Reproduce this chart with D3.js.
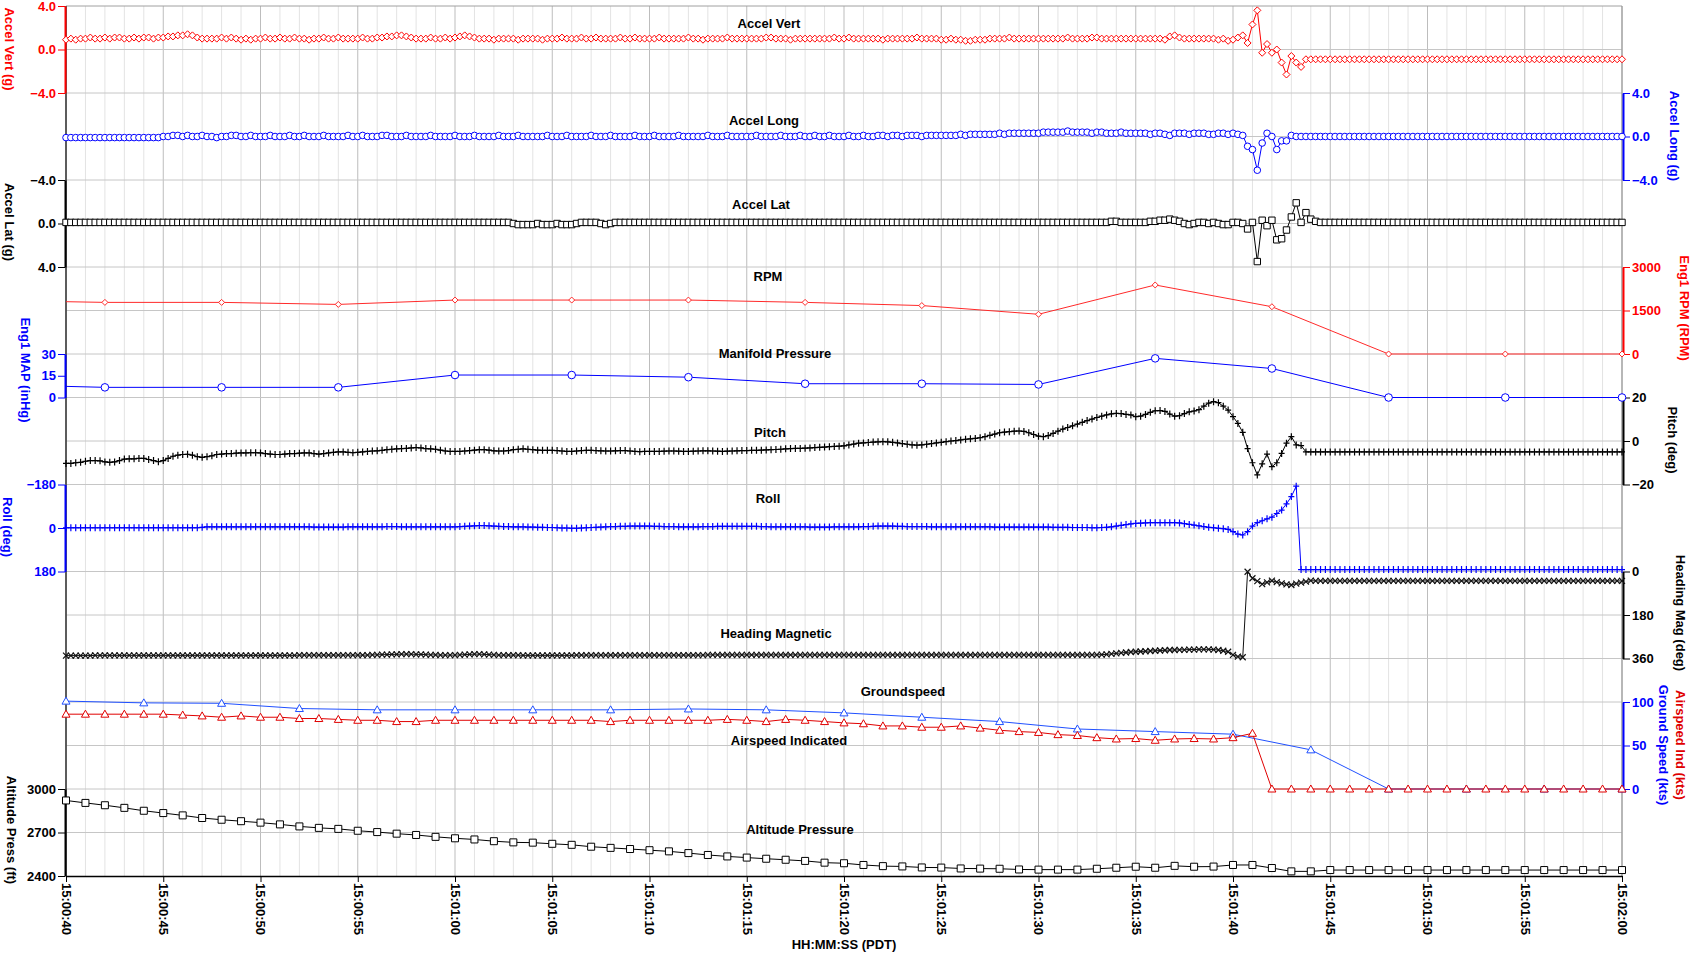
<!DOCTYPE html>
<html>
<head>
<meta charset="utf-8">
<script src="https://cdn.jsdelivr.net/npm/d3@7"></script>
<style>
  body { margin: 0; background: #fff; }
  svg text { font-family: "Liberation Sans", Arial, sans-serif; font-weight: bold; }
</style>
</head>
<body>
<svg id="chart" width="1694" height="956"></svg>
<script>
// ---- data (4 samples / s from 15:00:40, 321 samples) ----
const accelVert = [
  0.9,1.0,0.9,1.0,1.0,1.1,1.0,1.0,1.1,1.0,1.1,1.1,1.0,1.0,1.1,1.0,1.1,1.1,1.0,1.1,
  1.1,1.2,1.2,1.3,1.3,1.4,1.3,1.1,1.0,1.0,1.0,1.0,1.1,1.0,1.1,1.0,0.9,1.0,0.9,1.0,
  1.0,1.1,1.0,1.0,1.1,1.0,1.0,1.1,1.0,1.0,0.9,1.0,1.0,1.1,1.0,1.0,1.1,1.0,1.0,1.0,
  1.0,1.1,1.0,1.0,1.1,1.1,1.2,1.2,1.3,1.3,1.2,1.1,1.0,1.0,1.0,1.1,1.0,1.0,1.1,1.0,
  1.1,1.2,1.3,1.2,1.1,1.0,1.0,1.0,0.9,1.0,1.0,1.0,1.0,0.9,1.0,1.0,1.0,1.0,0.9,1.0,
  1.0,1.0,1.1,1.0,1.0,1.0,1.1,1.0,1.0,1.1,1.0,1.0,1.0,1.0,1.1,1.0,1.0,1.1,1.0,1.0,
  1.0,1.0,1.1,1.0,1.0,1.0,1.0,1.0,1.1,1.0,1.0,0.9,1.0,1.0,1.0,1.0,1.1,1.0,1.0,1.0,
  1.0,1.0,1.0,1.0,1.1,1.1,1.0,1.0,1.0,0.9,1.0,1.0,1.0,1.0,1.0,1.0,1.0,1.0,1.1,1.0,
  1.0,1.1,1.0,1.0,1.0,1.0,1.0,1.0,0.9,1.0,1.0,1.0,1.0,1.0,1.0,1.1,1.0,1.0,1.0,1.0,
  0.9,0.9,1.0,0.9,0.9,0.8,0.8,0.9,0.9,0.9,1.0,1.0,1.0,1.0,1.1,1.0,1.0,1.0,1.0,1.0,
  1.0,1.0,1.0,1.0,1.0,1.0,1.1,1.0,1.0,1.0,1.0,1.1,1.1,1.0,1.0,1.0,1.0,1.0,1.0,1.0,
  1.0,1.0,1.0,1.0,1.0,1.0,0.9,1.2,1.3,1.1,1.0,1.0,1.0,1.0,1.0,1.0,1.0,0.9,1.0,0.8,
  0.9,1.1,1.3,0.6,2.3,3.6,-0.3,0.5,-0.3,0.0,-1.2,-2.3,-0.6,-1.2,-1.6,-0.9,-0.9,-0.9,-0.9,-0.9,
  -0.9,-0.9,-0.9,-0.9,-0.9,-0.9,-0.9,-0.9,-0.9,-0.9,-0.9,-0.9,-0.9,-0.9,-0.9,-0.9,-0.9,-0.9,-0.9,-0.9,
  -0.9,-0.9,-0.9,-0.9,-0.9,-0.9,-0.9,-0.9,-0.9,-0.9,-0.9,-0.9,-0.9,-0.9,-0.9,-0.9,-0.9,-0.9,-0.9,-0.9,
  -0.9,-0.9,-0.9,-0.9,-0.9,-0.9,-0.9,-0.9,-0.9,-0.9,-0.9,-0.9,-0.9,-0.9,-0.9,-0.9,-0.9,-0.9,-0.9,-0.9,
  -0.9
];

const accelLong = [
  -0.1,-0.1,-0.1,-0.1,-0.1,-0.1,-0.1,-0.1,-0.1,-0.1,-0.1,-0.1,-0.1,-0.1,-0.1,-0.1,-0.1,-0.1,-0.1,-0.1,
  0.0,0.0,0.1,0.1,0.0,0.1,0.0,0.0,0.1,0.0,0.0,-0.1,0.0,0.0,0.1,0.1,0.0,0.0,0.1,0.0,
  0.0,0.0,0.1,0.0,0.0,0.0,0.1,0.0,0.0,0.1,0.0,0.0,0.0,0.1,0.0,0.0,0.0,0.0,0.1,0.0,
  0.0,0.1,0.0,0.0,0.0,0.1,0.1,0.0,0.0,0.0,0.1,0.0,0.0,0.0,0.0,0.1,0.0,0.0,0.0,0.0,
  0.1,0.0,0.0,0.0,0.1,0.0,0.0,0.0,0.0,0.1,0.0,0.0,0.0,0.1,0.0,0.0,0.0,0.0,0.0,0.1,
  0.0,0.0,0.0,0.1,0.0,0.0,0.0,0.0,0.1,0.0,0.0,0.0,0.1,0.0,0.0,0.0,0.0,0.1,0.0,0.0,
  0.0,0.1,0.0,0.0,0.0,0.0,0.1,0.0,0.0,0.0,0.0,0.0,0.1,0.0,0.0,0.0,0.1,0.0,0.0,0.0,
  0.0,0.0,0.1,0.0,0.0,0.0,0.0,0.1,0.0,0.0,0.0,0.1,0.0,0.0,0.1,0.0,0.0,0.1,0.0,0.0,
  0.0,0.1,0.0,0.0,0.1,0.0,0.0,0.1,0.1,0.0,0.1,0.1,0.0,0.1,0.1,0.1,0.0,0.1,0.1,0.1,
  0.1,0.1,0.1,0.1,0.2,0.1,0.2,0.2,0.2,0.2,0.2,0.2,0.3,0.2,0.3,0.3,0.3,0.3,0.3,0.3,
  0.3,0.4,0.4,0.4,0.4,0.4,0.5,0.4,0.4,0.4,0.4,0.3,0.4,0.4,0.3,0.3,0.3,0.4,0.3,0.3,
  0.3,0.3,0.3,0.2,0.3,0.3,0.2,0.1,0.3,0.3,0.3,0.2,0.3,0.3,0.3,0.2,0.2,0.3,0.3,0.2,
  0.3,0.2,0.1,-0.9,-1.2,-3.1,-0.6,0.3,0.0,-1.2,-0.4,-0.4,0.1,0.0,0.0,0.0,0.0,0.0,0.0,0.0,
  0.0,0.0,0.0,0.0,0.0,0.0,0.0,0.0,0.0,0.0,0.0,0.0,0.0,0.0,0.0,0.0,0.0,0.0,0.0,0.0,
  0.0,0.0,0.0,0.0,0.0,0.0,0.0,0.0,0.0,0.0,0.0,0.0,0.0,0.0,0.0,0.0,0.0,0.0,0.0,0.0,
  0.0,0.0,0.0,0.0,0.0,0.0,0.0,0.0,0.0,0.0,0.0,0.0,0.0,0.0,0.0,0.0,0.0,0.0,0.0,0.0,
  0.0
];

const accelLat = [
  -0.1,-0.1,-0.1,-0.1,-0.1,-0.1,-0.1,-0.1,-0.1,-0.1,-0.1,-0.1,-0.1,-0.1,-0.1,-0.1,-0.1,-0.1,-0.1,-0.1,
  -0.1,-0.1,-0.1,-0.1,-0.1,-0.1,-0.1,-0.1,-0.1,-0.1,-0.1,-0.1,-0.1,-0.1,-0.1,-0.1,-0.1,-0.1,-0.1,-0.1,
  -0.1,-0.1,-0.1,-0.1,-0.1,-0.1,-0.1,-0.1,-0.1,-0.1,-0.1,-0.1,-0.1,-0.1,-0.1,-0.1,-0.1,-0.1,-0.1,-0.1,
  -0.1,-0.1,-0.1,-0.1,-0.1,-0.1,-0.1,-0.1,-0.1,-0.1,-0.1,-0.1,-0.1,-0.1,-0.1,-0.1,-0.1,-0.1,-0.1,-0.1,
  -0.1,-0.1,-0.1,-0.1,-0.1,-0.1,-0.1,-0.1,-0.1,-0.1,-0.1,-0.1,0.0,0.1,0.1,0.1,0.1,0.0,0.1,0.1,
  0.1,0.0,0.1,0.1,0.1,0.0,-0.1,-0.1,-0.1,-0.1,0.0,0.1,0.0,-0.1,-0.1,-0.1,-0.1,-0.1,-0.1,-0.1,
  -0.1,-0.1,-0.1,-0.1,-0.1,-0.1,-0.1,-0.1,-0.1,-0.1,-0.1,-0.1,-0.1,-0.1,-0.1,-0.1,-0.1,-0.1,-0.1,-0.1,
  -0.1,-0.1,-0.1,-0.1,-0.1,-0.1,-0.1,-0.1,-0.1,-0.1,-0.1,-0.1,-0.1,-0.1,-0.1,-0.1,-0.1,-0.1,-0.1,-0.1,
  -0.1,-0.1,-0.1,-0.1,-0.1,-0.1,-0.1,-0.1,-0.1,-0.1,-0.1,-0.1,-0.1,-0.1,-0.1,-0.1,-0.1,-0.1,-0.1,-0.1,
  -0.1,-0.1,-0.1,-0.1,-0.1,-0.1,-0.1,-0.1,-0.1,-0.1,-0.1,-0.1,-0.1,-0.1,-0.1,-0.1,-0.1,-0.1,-0.1,-0.1,
  -0.1,-0.1,-0.1,-0.1,-0.1,-0.1,-0.1,-0.1,-0.1,-0.1,-0.1,-0.1,-0.1,-0.1,-0.1,-0.2,-0.2,-0.1,-0.1,-0.1,
  -0.1,-0.1,-0.1,-0.2,-0.2,-0.3,-0.3,-0.4,-0.3,-0.2,0.0,0.1,0.0,-0.1,-0.1,0.0,-0.1,0.0,0.1,0.1,
  -0.1,-0.1,0.0,0.5,-0.1,3.5,-0.3,0.2,-0.3,1.5,1.4,0.6,-0.6,-1.9,-0.1,-1.0,-0.4,-0.2,-0.1,-0.1,
  -0.1,-0.1,-0.1,-0.1,-0.1,-0.1,-0.1,-0.1,-0.1,-0.1,-0.1,-0.1,-0.1,-0.1,-0.1,-0.1,-0.1,-0.1,-0.1,-0.1,
  -0.1,-0.1,-0.1,-0.1,-0.1,-0.1,-0.1,-0.1,-0.1,-0.1,-0.1,-0.1,-0.1,-0.1,-0.1,-0.1,-0.1,-0.1,-0.1,-0.1,
  -0.1,-0.1,-0.1,-0.1,-0.1,-0.1,-0.1,-0.1,-0.1,-0.1,-0.1,-0.1,-0.1,-0.1,-0.1,-0.1,-0.1,-0.1,-0.1,-0.1,
  -0.1
];

const pitchDeg = [
  -10.3,-10.3,-10.0,-9.8,-9.3,-9.0,-9.0,-9.1,-9.6,-9.8,-9.6,-9.0,-8.3,-8.2,-8.2,-8.0,-8.0,-8.5,-9.0,-9.5,
  -9.0,-8.0,-7.0,-6.5,-6.2,-6.1,-6.5,-7.2,-7.5,-7.2,-6.8,-6.2,-6.0,-5.8,-5.8,-5.6,-5.5,-5.5,-5.4,-5.4,
  -5.5,-5.8,-6.0,-6.2,-6.2,-6.0,-5.8,-5.8,-5.6,-5.5,-5.5,-5.8,-6.0,-5.8,-5.5,-5.2,-5.0,-5.0,-5.2,-5.4,
  -5.2,-5.0,-4.8,-4.6,-4.5,-4.3,-4.0,-3.8,-3.6,-3.5,-3.4,-3.2,-3.0,-3.2,-3.5,-3.6,-3.8,-4.2,-4.6,-4.8,
  -4.8,-4.8,-4.6,-4.4,-4.2,-4.0,-4.0,-4.2,-4.5,-4.6,-4.6,-4.4,-4.0,-3.8,-3.6,-3.8,-4.0,-4.2,-4.3,-4.3,
  -4.3,-4.4,-4.6,-4.8,-4.8,-4.6,-4.4,-4.3,-4.3,-4.4,-4.5,-4.6,-4.6,-4.5,-4.4,-4.4,-4.6,-4.8,-4.9,-4.8,
  -4.8,-4.8,-4.8,-4.7,-4.6,-4.6,-4.7,-4.8,-4.8,-4.7,-4.6,-4.5,-4.5,-4.6,-4.7,-4.8,-4.7,-4.6,-4.5,-4.4,
  -4.4,-4.3,-4.3,-4.2,-4.1,-4.0,-3.9,-3.8,-3.6,-3.5,-3.4,-3.4,-3.3,-3.2,-3.0,-2.9,-2.8,-2.6,-2.5,-2.4,
  -2.2,-1.8,-1.4,-1.0,-0.9,-0.7,-0.5,-0.4,-0.3,-0.4,-0.6,-0.9,-1.2,-1.5,-1.8,-1.9,-1.8,-1.5,-1.2,-0.9,
  -0.6,-0.3,0.0,0.2,0.5,0.8,1.0,1.2,1.5,2.0,2.6,3.2,3.8,4.1,4.3,4.5,4.6,4.4,3.8,3.0,
  2.2,2.0,2.5,3.5,4.5,5.5,6.2,7.0,7.8,8.6,9.4,10.1,10.8,11.4,12.0,12.5,12.7,12.6,12.2,12.0,
  11.2,11.4,12.2,13.2,13.9,14.0,13.6,12.4,11.4,11.6,12.6,13.4,13.8,14.4,16.0,17.4,18.1,17.6,16.0,14.2,
  11.2,8.1,4.0,-3.5,-10.0,-15.6,-10.5,-6.0,-11.8,-10.0,-5.7,-1.0,2.0,-1.8,-2.1,-5.0,-5.0,-5.0,-5.0,-5.0,
  -5.0,-5.0,-5.0,-5.0,-5.0,-5.0,-5.0,-5.0,-5.0,-5.0,-5.0,-5.0,-5.0,-5.0,-5.0,-5.0,-5.0,-5.0,-5.0,-5.0,
  -5.0,-5.0,-5.0,-5.0,-5.0,-5.0,-5.0,-5.0,-5.0,-5.0,-5.0,-5.0,-5.0,-5.0,-5.0,-5.0,-5.0,-5.0,-5.0,-5.0,
  -5.0,-5.0,-5.0,-5.0,-5.0,-5.0,-5.0,-5.0,-5.0,-5.0,-5.0,-5.0,-5.0,-5.0,-5.0,-5.0,-5.0,-5.0,-5.0,-5.0,
  -5.0
];

const rollDeg = [
  -1,-1,-1,-1,-1,-1,-1,-1,-1,-1,-1,-1,-1,-1,-1,-1,-1,-1,-1,-1,
  -1,-1,-1,-1,-1,-1,-1,-1,-3,-5,-5,-5,-5,-5,-5,-5,-5,-5,-5,-5,
  -5,-5,-5,-5,-5,-5,-5,-5,-5,-5,-5,-4,-4,-4,-4,-4,-4,-4,-5,-5,
  -5,-5,-5,-5,-5,-5,-6,-6,-6,-5,-5,-5,-5,-5,-5,-5,-5,-5,-5,-5,
  -5,-6,-7,-8,-9,-10,-10,-9,-8,-7,-6,-6,-5,-5,-5,-4,-4,-3,-3,-2,
  -2,-1,0,0,1,1,0,-1,-2,-3,-4,-5,-6,-6,-7,-7,-8,-8,-8,-8,
  -8,-7,-7,-6,-6,-6,-5,-5,-5,-5,-5,-6,-6,-6,-7,-7,-7,-7,-7,-7,
  -7,-7,-7,-6,-6,-5,-5,-5,-5,-5,-5,-5,-5,-4,-4,-4,-4,-4,-5,-5,
  -5,-5,-5,-5,-6,-6,-7,-8,-8,-8,-8,-7,-7,-6,-6,-6,-6,-6,-5,-5,
  -5,-5,-5,-5,-5,-5,-5,-5,-5,-5,-5,-4,-4,-4,-4,-4,-4,-4,-4,-4,
  -4,-4,-4,-3,-3,-3,-3,-2,-2,-2,-2,-1,-1,-2,-3,-5,-8,-11,-14,-17,
  -19,-20,-21,-22,-22,-22,-22,-22,-22,-21,-18,-15,-12,-9,-6,-3,-1,1,3,6,
  15,25,29,15,-8,-22,-30,-38,-45,-60,-74,-100,-130,-173,172,172,172,172,172,172,
  172,172,172,172,172,172,172,172,172,172,172,172,172,172,172,172,172,172,172,172,
  172,172,172,172,172,172,172,172,172,172,172,172,172,172,172,172,172,172,172,172,
  172,172,172,172,172,172,172,172,172,172,172,172,172,172,172,172,172,172,172,172,
  172
];

const headingDeg = [
  348,348,348,348,348,348,347,347,347,347,347,347,347,347,347,347,347,347,347,347,
  347,347,347,347,347,347,347,347,347,347,347,347,347,347,347,347,347,347,347,347,
  347,347,347,347,347,347,347,347,346,346,346,346,346,346,346,346,346,346,346,346,
  346,346,346,345,345,344,344,343,343,342,342,342,343,343,344,345,345,346,346,346,
  346,345,344,343,342,342,343,344,345,346,346,346,346,346,347,347,347,347,347,347,
  347,347,347,347,347,346,346,346,346,346,346,346,346,346,346,346,346,346,346,346,
  346,346,346,346,346,346,346,346,346,346,346,346,345,345,345,345,345,345,345,345,
  345,345,345,345,345,345,345,345,345,345,345,345,345,345,345,345,345,345,345,345,
  345,345,345,345,345,345,345,345,345,345,345,345,345,345,345,345,345,345,345,345,
  345,345,345,345,345,345,345,345,345,345,345,345,345,345,345,345,345,345,345,345,
  345,345,345,345,345,345,345,345,345,345,345,345,345,344,343,341,339,337,335,333,
  332,331,330,329,328,327,326,325,325,324,324,323,323,322,322,322,323,325,328,332,
  345,352,355,1,28,40,52,45,38,44,49,53,56,50,46,42,38,39,39,39,
  39,39,39,39,39,39,39,39,39,39,39,39,39,39,39,39,39,39,39,39,
  39,39,39,39,39,39,39,39,39,39,39,39,39,39,39,39,39,39,39,39,
  39,39,39,39,39,39,39,39,39,39,39,39,39,39,39,39,39,39,39,39,
  39
];

// engine: one sample every 6 s (first one before the window)
const engineSec = [-4, 2, 8, 14, 20, 26, 32, 38, 44, 50, 56, 62, 68, 74, 80];
const rpmValues = [1850, 1780, 1780, 1710, 1860, 1860, 1860, 1780, 1670, 1370, 2380, 1630, 0, 0, 0];
const mapValues = [9, 7, 7, 7, 15.5, 15.5, 14, 9.5, 9.5, 9, 27, 20, 0, 0, 0];

// groundspeed: every 4 s
const groundSec = [0, 4, 8, 12, 16, 20, 24, 28, 32, 36, 40, 44, 48, 52, 56, 60, 64, 68, 72, 76, 80];
const groundKts = [101, 99, 98.5, 92.5, 91, 91, 91, 91, 92, 91, 87.5, 82.5, 77.5, 69, 66, 63, 45, 0, 0, 0, 0];

// airspeed and altitude: every 1 s
const airspeedKts = [
  86, 86, 86, 86, 86, 86, 85, 84, 82.5, 84, 82.5, 82.5, 81, 81, 80, 79, 79, 77.5, 77.5, 79,
  79, 79, 79, 79, 79, 79, 79, 79, 77.5, 79, 79, 79, 79, 79, 80, 79, 77.5, 80, 79, 77.5,
  76, 75, 72.5, 72.5, 71, 71, 72.5, 70, 67.5, 66, 65, 62.5, 61.5, 59, 57.5, 58, 56, 57.5, 58, 57.5,
  59, 64, 0, 0, 0, 0, 0, 0, 0, 0, 0, 0, 0, 0, 0, 0, 0, 0, 0, 0, 0
];
const altitudeFt = [
  2921, 2904, 2888, 2870, 2850, 2834, 2818, 2800, 2788, 2778, 2768, 2756, 2742, 2732, 2725, 2712, 2703, 2692, 2683, 2670,
  2660, 2652, 2640, 2632, 2630, 2622, 2615, 2602, 2594, 2586, 2578, 2570, 2558, 2545, 2535, 2527, 2519, 2512, 2504, 2492,
  2488, 2476, 2468, 2466, 2459, 2458, 2452, 2451, 2450, 2445, 2444, 2444, 2444, 2450, 2457, 2464, 2457, 2470, 2464, 2465,
  2476, 2476, 2455, 2432, 2432, 2441, 2441, 2441, 2441, 2441, 2441, 2441, 2441, 2441, 2441, 2441, 2441, 2441, 2441, 2441, 2441
];

const seriesTitles = ['Accel Vert', 'Accel Long', 'Accel Lat', 'RPM', 'Manifold Pressure', 'Pitch', 'Roll',
  'Heading Magnetic', 'Groundspeed', 'Airspeed Indicated', 'Altitude Pressure'];

// ---- layout ----
const X0 = 66, X1 = 1622, Y0 = 6, Y1 = 876;
const band = k => Y0 + k * (Y1 - Y0) / 20;
const RED = '#ff0000', BLUE = '#0000ff', BLACK = '#000000';

const start = new Date(2011, 0, 1, 15, 0, 40);
const at = s => new Date(start.getTime() + s * 1000);
const denseTimes = d3.range(accelVert.length).map(i => at(i / 4));
const secTimes = d3.range(airspeedKts.length).map(i => at(i));

const x = d3.scaleTime().domain([at(0), at(80)]).range([X0, X1]);

const yVert = d3.scaleLinear().domain([-4, 4]).range([band(2), band(0)]);
const yLong = d3.scaleLinear().domain([-4, 4]).range([band(4), band(2)]);
const yLat = d3.scaleLinear().domain([-4, 4]).range([band(4), band(6)]);
const yRpm = d3.scaleLinear().domain([0, 3000]).range([band(8), band(6)]);
const yMap = d3.scaleLinear().domain([0, 30]).range([band(9), band(8)]);
const yPitch = d3.scaleLinear().domain([-20, 20]).range([band(11), band(9)]);
const yRoll = d3.scaleLinear().domain([-180, 180]).range([band(11), band(13)]);
const yHdg = d3.scaleLinear().domain([0, 360]).range([band(13), band(15)]);
const ySpd = d3.scaleLinear().domain([0, 100]).range([band(18), band(16)]);
const yAlt = d3.scaleLinear().domain([2400, 3000]).range([band(20), band(18)]);

const svg = d3.select('#chart');
svg.append('rect').attr('width', 1694).attr('height', 956).attr('fill', '#fff');

svg.append('defs').append('clipPath').attr('id', 'plotclip')
  .append('rect').attr('x', X0).attr('y', Y0 - 8).attr('width', X1 - X0).attr('height', Y1 - Y0 + 16);

// grid
const grid = svg.append('g');
const allSecs = d3.range(0, 81);
grid.selectAll('line.vmin').data(allSecs.filter(s => s % 5 !== 0)).enter().append('line')
  .attr('x1', s => x(at(s))).attr('x2', s => x(at(s))).attr('y1', Y0).attr('y2', Y1)
  .attr('stroke', '#e3e3e3').attr('stroke-width', 1);
grid.selectAll('line.vmaj').data(allSecs.filter(s => s % 5 === 0)).enter().append('line')
  .attr('x1', s => x(at(s))).attr('x2', s => x(at(s))).attr('y1', Y0).attr('y2', Y1)
  .attr('stroke', '#bdbdbd').attr('stroke-width', 1);
grid.selectAll('line.h').data(d3.range(1, 20)).enter().append('line')
  .attr('x1', X0).attr('x2', X1).attr('y1', k => band(k)).attr('y2', k => band(k))
  .attr('stroke', '#c6c6c6').attr('stroke-width', 1);

// frame
svg.append('line').attr('x1', X0).attr('x2', X1).attr('y1', Y0).attr('y2', Y0).attr('stroke', '#a0a0a0');
svg.append('line').attr('x1', X1).attr('x2', X1).attr('y1', Y0).attr('y2', Y1).attr('stroke', '#909090');
svg.append('line').attr('x1', X0).attr('x2', X0).attr('y1', Y0).attr('y2', Y1).attr('stroke', '#303030').attr('stroke-width', 1.5);

// y axes
const axes = [
  { side: 'left', s: yVert, c: RED, ticks: [-4, 0, 4], minor: 0.5, f: '.1f', title: ['Accel Vert (g)'], tx: [10], ty: 49 },
  { side: 'right', s: yLong, c: BLUE, ticks: [-4, 0, 4], minor: 0.5, f: '.1f', title: ['Accel Long (g)'], tx: [1675], ty: 136 },
  { side: 'left', s: yLat, c: BLACK, ticks: [-4, 0, 4], minor: 0.5, f: '.1f', title: ['Accel Lat (g)'], tx: [10], ty: 222 },
  { side: 'right', s: yRpm, c: RED, ticks: [0, 1500, 3000], minor: 500, f: 'd', title: ['Eng1 RPM (RPM)'], tx: [1685], ty: 308 },
  { side: 'left', s: yMap, c: BLUE, ticks: [0, 15, 30], minor: 5, f: 'd', title: ['Eng1 MAP (inHg)'], tx: [26], ty: 370 },
  { side: 'right', s: yPitch, c: BLACK, ticks: [-20, 0, 20], minor: 5, f: 'd', title: ['Pitch (deg)'], tx: [1673], ty: 440 },
  { side: 'left', s: yRoll, c: BLUE, ticks: [-180, 0, 180], minor: 30, f: 'd', title: ['Roll (deg)'], tx: [8], ty: 527 },
  { side: 'right', s: yHdg, c: BLACK, ticks: [0, 180, 360], minor: 20, f: 'd', title: ['Heading Mag (deg)'], tx: [1681], ty: 613 },
  { side: 'right', s: ySpd, c: BLUE, ticks: [0, 50, 100], minor: 10, f: 'd', title: ['Ground Speed (kts)', 'Airspeed Ind (kts)'], tx: [1664, 1681], tc: [BLUE, '#e00000'], ty: 745 },
  { side: 'left', s: yAlt, c: BLACK, ticks: [2400, 2700, 3000], minor: 100, f: 'd', title: ['Altitude Press (ft)'], tx: [12], ty: 830 }
];

axes.forEach(a => {
  const left = a.side === 'left';
  const g = svg.append('g').attr('transform', `translate(${left ? X0 - 1 : X1 + 1},0)`);
  const mk = left ? d3.axisLeft : d3.axisRight;
  const dom = a.s.domain();
  const minorVals = d3.range(dom[0], dom[1] + a.minor / 2, a.minor);
  g.call(mk(a.s).tickValues(minorVals).tickSize(4).tickSizeOuter(0).tickFormat(''));
  g.call(mk(a.s).tickValues(a.ticks).tickSize(7).tickSizeOuter(0).tickPadding(2).tickFormat(d3.format(a.f)));
  g.selectAll('path.domain').attr('stroke', a.c).attr('stroke-width', 2);
  g.selectAll('.tick line').attr('stroke', a.c);
  g.selectAll('.tick text').attr('fill', a.c).style('font-size', '13px')
    .style('font-family', '"Liberation Sans", Arial, sans-serif').style('font-weight', 'bold');
  a.title.forEach((t, i) => {
    svg.append('text').attr('transform', `translate(${a.tx[i]},${a.ty}) rotate(90)`)
      .attr('text-anchor', 'middle').attr('dy', '0.35em')
      .attr('fill', a.tc ? a.tc[i] : a.c).style('font-size', '13px').text(t);
  });
});

// x axis
const xg = svg.append('g').attr('transform', `translate(0,${Y1})`);
xg.call(d3.axisBottom(x).ticks(d3.timeSecond.every(1)).tickSize(6).tickSizeOuter(0).tickFormat(''));
xg.call(d3.axisBottom(x).ticks(d3.timeSecond.every(5)).tickSize(6).tickSizeOuter(0)
  .tickFormat(d3.timeFormat('%H:%M:%S')));
xg.selectAll('path.domain').attr('stroke', '#000').attr('stroke-width', 1.5);
xg.selectAll('.tick line').attr('stroke', '#000');
xg.selectAll('.tick text').attr('transform', 'rotate(90)').attr('x', 7).attr('y', 0).attr('dy', '0.35em')
  .style('text-anchor', 'start').style('font-size', '13px').attr('fill', '#000')
  .style('font-family', '"Liberation Sans", Arial, sans-serif').style('font-weight', 'bold');
svg.append('text').attr('x', (X0 + X1) / 2).attr('y', 949).attr('text-anchor', 'middle')
  .style('font-size', '13px').text('HH:MM:SS (PDT)');

// markers
const shapes = {
  diamond: r => `M0,${-r}L${r},0L0,${r}L${-r},0Z`,
  square: r => `M${-r},${-r}h${2 * r}v${2 * r}h${-2 * r}Z`,
  triangle: r => `M0,${-r}L${r},${r * 0.75}L${-r},${r * 0.75}Z`,
  plus: r => `M${-r},0H${r}M0,${-r - 0.5}V${r + 0.5}`,
  times: r => `M${-r},${-r}L${r},${r}M${-r},${r}L${r},${-r}`,
  circle: r => `M${r},0A${r},${r} 0 1,1 ${-r},0A${r},${r} 0 1,1 ${r},0Z`
};

function drawSeries(times, values, y, color, shape, r, sw) {
  const pts = times.map((t, i) => ({ t: t, v: values[i] }));
  const g = svg.append('g');
  g.append('path').datum(pts).attr('clip-path', 'url(#plotclip)')
    .attr('d', d3.line().x(d => x(d.t)).y(d => y(d.v)))
    .attr('fill', 'none').attr('stroke', color).attr('stroke-width', 1);
  const hollow = shape !== 'plus' && shape !== 'times';
  g.selectAll('path.m').data(pts.filter(d => d.t >= at(0) && d.t <= at(80))).enter().append('path')
    .attr('transform', d => `translate(${x(d.t)},${y(d.v)})`)
    .attr('d', shapes[shape](r))
    .attr('fill', hollow ? '#fff' : 'none').attr('stroke', color).attr('stroke-width', sw || 1);
}

drawSeries(denseTimes, accelVert, yVert, RED, 'diamond', 3.5);
drawSeries(denseTimes, accelLong, yLong, BLUE, 'circle', 3.3);
drawSeries(denseTimes, accelLat, yLat, BLACK, 'square', 3.2);
drawSeries(engineSec.map(at), rpmValues, yRpm, '#ff2a2a', 'diamond', 3);
drawSeries(engineSec.map(at), mapValues, yMap, BLUE, 'circle', 3.8);
drawSeries(denseTimes, pitchDeg, yPitch, BLACK, 'plus', 3, 1.2);
drawSeries(denseTimes, headingDeg, yHdg, '#111', 'times', 3, 1.2);
drawSeries(denseTimes, rollDeg, yRoll, BLUE, 'plus', 3, 1.2);
drawSeries(groundSec.map(at), groundKts, ySpd, '#2050ff', 'triangle', 4);
drawSeries(secTimes, airspeedKts, ySpd, '#e00000', 'triangle', 4);
drawSeries(secTimes, altitudeFt, yAlt, BLACK, 'square', 3.5);

// series titles inside the plot
const titlePos = [[769, 28], [764, 124.5], [761, 208.5], [768, 281], [775, 357.5], [770, 436.5],
  [768, 502.5], [776, 637.5], [903, 695.5], [789, 744.5], [800, 834]];
svg.selectAll('text.stitle').data(seriesTitles).enter().append('text')
  .attr('x', (d, i) => titlePos[i][0]).attr('y', (d, i) => titlePos[i][1])
  .attr('text-anchor', 'middle').attr('fill', '#000').style('font-size', '13px').text(d => d);
</script>
</body>
</html>
